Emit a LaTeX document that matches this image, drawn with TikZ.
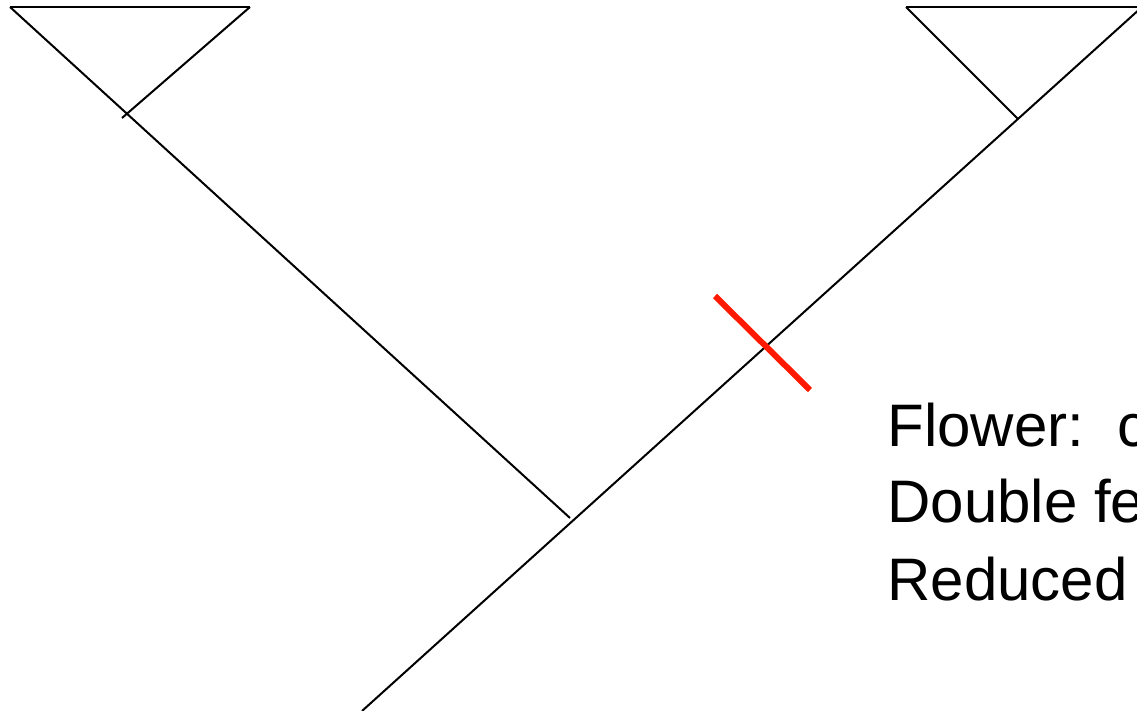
\documentclass[tikz,border=0pt]{standalone}
\usepackage{fontspec}
\setmainfont{Liberation Sans}
\begin{document}
\begin{tikzpicture}[
        x=0.5pt, y=-0.5pt,
        branch/.style={black, line width=1pt},
        mark_line/.style={draw=red!80!orange, line width=3pt},
        label_text/.style={anchor=base west, inner sep=0pt, font=\fontsize{30}{36}\selectfont}
    ]

    % Rahmen des Bildes
    \useasboundingbox (0,0) rectangle (1137,711);
    \clip (0,0) rectangle (1137,711);

    % Endpunkte und Verzweigungen
    \coordinate (lt1) at (10,7);
    \coordinate (lt2) at (250,7);
    \coordinate (lt3) at (122,118);
    \coordinate (lj) at (570,518);
    \coordinate (rt1) at (906,7);
    \coordinate (rt2) at (1142,7);
    \coordinate (rj) at (1018,119);
    \coordinate (root) at (362,711);

    % Linke Gruppe
    \draw[branch] (lt1) -- (lt2);
    \draw[branch] (lt2) -- (lt3);
    \draw[branch] (lt1) -- (lj);

    % Rechte Gruppe und Stamm
    \draw[branch] (rt1) -- (rt2);
    \draw[branch] (rt1) -- (rj);
    \draw[branch] (root) -- (rt2);

    % Markierung auf dem Ast
    \coordinate (m1) at (715,296);
    \coordinate (m2) at (810,390);
    \draw[mark_line] (m1) -- (m2);

    % Beschriftung
    \node[label_text] (flower) at (887,446.7) {Flower:~~c};
    \node[label_text] (double) at (887,523) {Double fe};
    \node[label_text] (reduced) at (887,600.7) {Reduced};

\end{tikzpicture}
\end{document}
